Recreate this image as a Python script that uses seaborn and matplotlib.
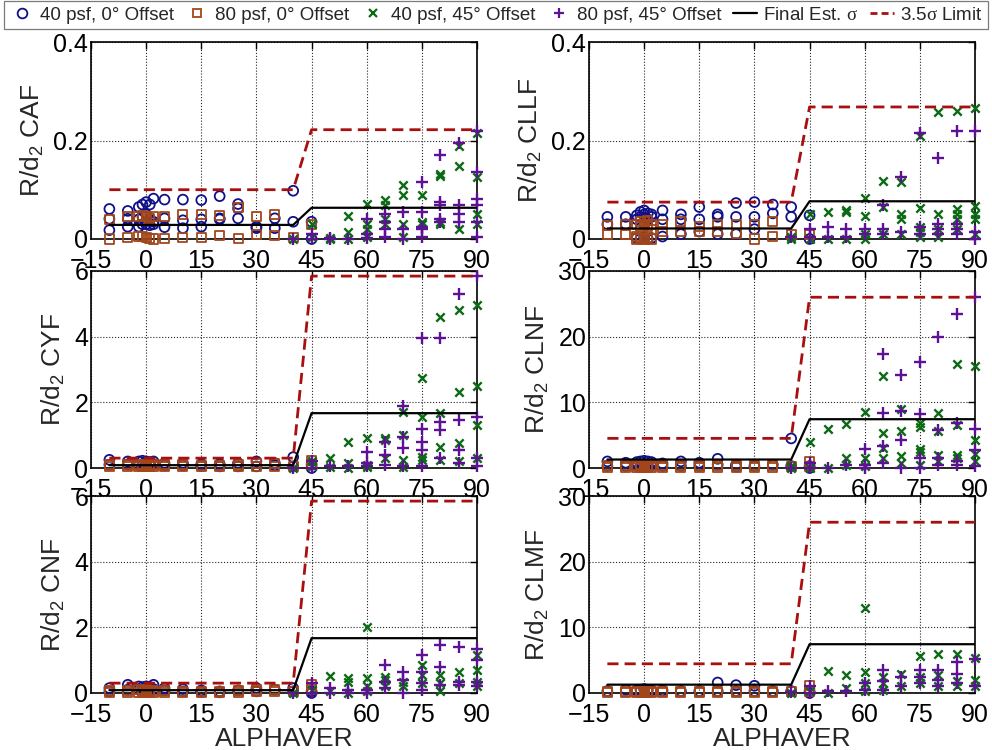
import matplotlib
matplotlib.use("Agg")
import matplotlib.pyplot as plt
from matplotlib.lines import Line2D
from matplotlib.ticker import FormatStrFormatter
import pandas as pd
import seaborn as sns

# ---------------------------------------------------------------------------
# Angle-of-attack sweeps
ALPHA_0DEG = [-10, -5, -2, -1, 0, 1, 2, 5, 10, 15, 20, 25, 30, 35, 40, 45]
ALPHA_45DEG = [40, 45, 50, 55, 60, 65, 70, 75, 80, 85, 90]
SIGMA_ALPHA = [-10, 40, 45, 90]

COEFFS = ["CAF", "CLLF", "CYF", "CLNF", "CNF", "CLMF"]
SIGMA_LOW = [0.0286, 0.0214, 0.086, 1.29, 0.086, 1.27]
SIGMA_HIGH = [0.0634, 0.0766, 1.67, 7.43, 1.67, 7.43]
LIMIT_FACTOR = 3.5
Y_MAX = [0.4, 0.4, 6, 30, 6, 30]
Y_TICKS = [[0, 0.2, 0.4], [0, 0.2, 0.4], [0, 2, 4, 6], [0, 10, 20, 30],
           [0, 2, 4, 6], [0, 10, 20, 30]]
X_TICKS = [-15, 0, 15, 30, 45, 60, 75, 90]

# R/d2 values per alpha (one inner list of repeat runs per alpha)
CAF_40_0 = [[0.061, 0.041, 0.018], [0.057, 0.041, 0.025], [0.065, 0.040, 0.025],
            [0.070, 0.045, 0.030], [0.075, 0.050, 0.030], [0.070, 0.040, 0.028],
            [0.082, 0.035, 0.030], [0.080, 0.042, 0.024], [0.080, 0.038, 0.022],
            [0.079, 0.040, 0.025], [0.087, 0.040, 0.042], [0.071, 0.062, 0.042],
            [0.025, 0.022], [0.042, 0.022], [0.098, 0.035], [0.035, 0.0]]
CAF_80_0 = [[0.040, 0.0], [0.045, 0.003], [0.045, 0.005], [0.048, 0.005],
            [0.045, 0.003], [0.042, 0.002], [0.045, 0.0], [0.045, 0.002],
            [0.050, 0.003], [0.050, 0.003], [0.048, 0.008], [0.063, 0.002],
            [0.045, 0.010], [0.050, 0.008], [0.003], [0.030]]
CAF_40_45 = [[0.0], [0.030, 0.005], [0.002, 0.0], [0.047, 0.015, 0.0],
             [0.072, 0.030, 0.020, 0.005], [0.080, 0.070, 0.040, 0.030],
             [0.110, 0.090, 0.030, 0.005], [0.090, 0.035, 0.030],
             [0.132, 0.128, 0.030, 0.035], [0.188, 0.148, 0.020],
             [0.215, 0.125, 0.050, 0.030]]
CAF_80_45 = [[0.0], [0.010, 0.0], [0.003, 0.0], [0.0], [0.040, 0.010, 0.003],
             [0.050, 0.035, 0.020, 0.005], [0.055, 0.020, 0.0],
             [0.115, 0.055, 0.025, 0.020, 0.005],
             [0.170, 0.075, 0.070, 0.040, 0.035], [0.195, 0.070, 0.050, 0.035],
             [0.220, 0.137, 0.082, 0.070, 0.035, 0.005]]

CLLF_40_0 = [[0.045, 0.030], [0.045, 0.030], [0.048, 0.040, 0.002],
             [0.055, 0.045, 0.0], [0.058, 0.050, 0.003], [0.052, 0.040, 0.0],
             [0.050, 0.045, 0.002], [0.058, 0.040, 0.005], [0.050, 0.040, 0.010],
             [0.065, 0.040, 0.015], [0.050, 0.045, 0.010], [0.073, 0.045, 0.010],
             [0.075, 0.045, 0.020], [0.070, 0.052], [0.065, 0.045], [0.048, 0.0]]
CLLF_80_0 = [[0.028, 0.010], [0.030, 0.010], [0.030, 0.005, 0.0],
             [0.035, 0.025, 0.002], [0.035, 0.030, 0.0], [0.038, 0.025, 0.003],
             [0.030, 0.020, 0.0], [0.030, 0.015], [0.035, 0.015], [0.025, 0.015],
             [0.030, 0.015], [0.030, 0.012], [0.030, 0.0], [0.035, 0.005],
             [0.010], [0.010]]
CLLF_40_45 = [[0.005, 0.0], [0.050, 0.0], [0.055, 0.0], [0.058, 0.055, 0.0],
              [0.083, 0.047, 0.010, 0.0], [0.118, 0.065, 0.010],
              [0.115, 0.050, 0.040, 0.010], [0.210, 0.063, 0.025, 0.015, 0.005],
              [0.258, 0.050, 0.020, 0.005], [0.260, 0.060, 0.050, 0.040, 0.020],
              [0.265, 0.068, 0.050, 0.040, 0.010]]
CLLF_80_45 = [[0.005], [0.020, 0.005], [0.025, 0.005], [0.020, 0.005],
              [0.020, 0.010], [0.070, 0.020, 0.010], [0.125, 0.015],
              [0.215, 0.025, 0.010], [0.165, 0.030, 0.020, 0.010],
              [0.220, 0.030, 0.020, 0.010], [0.220, 0.015, 0.0]]

CYF_40_0 = [[0.25, 0.10], [0.20, 0.10], [0.20, 0.10], [0.22, 0.12], [0.20, 0.15],
            [0.18, 0.10], [0.20, 0.12], [0.15, 0.08], [0.15, 0.08], [0.12, 0.06],
            [0.12, 0.05], [0.15, 0.05], [0.20, 0.05], [0.15, 0.08], [0.33, 0.05],
            [0.10, 0.0]]
CYF_80_0 = [[0.12, 0.05], [0.12, 0.05], [0.10, 0.04], [0.12, 0.05], [0.12, 0.04],
            [0.10, 0.05], [0.10, 0.04], [0.10, 0.05], [0.10, 0.05], [0.08, 0.04],
            [0.08, 0.04], [0.10, 0.05], [0.15, 0.05], [0.15, 0.05], [0.05],
            [0.22, 0.10]]
CYF_40_45 = [[0.0], [0.20, 0.05], [0.30, 0.02], [0.78, 0.15, 0.0],
             [0.90, 0.08, 0.02], [0.92, 0.85, 0.30], [1.70, 1.00, 0.25, 0.02],
             [2.75, 1.55, 0.35, 0.25], [4.60, 1.68, 0.65, 0.25],
             [4.80, 2.30, 0.75, 0.20], [4.95, 2.50, 1.30, 0.30]]
CYF_80_45 = [[0.0], [0.20, 0.0], [0.05], [0.05], [0.50, 0.15, 0.05],
             [0.80, 0.40, 0.10], [1.90, 0.95, 0.60, 0.05],
             [3.95, 1.20, 0.80, 0.55, 0.05], [3.95, 1.40, 1.15, 0.30],
             [5.30, 1.45, 0.55, 0.15], [5.85, 1.55, 0.30, 0.05]]

CLNF_40_0 = [[1.0, 0.3], [0.8, 0.3], [0.9, 0.4], [1.0, 0.5], [1.1, 0.6], [1.0, 0.5],
             [0.9, 0.4], [0.7, 0.3], [1.0, 0.3], [0.8, 0.3], [1.4, 0.5], [0.5, 0.2],
             [0.3], [0.5], [4.5, 0.3], [0.3, 0.0]]
CLNF_80_0 = [[0.4, 0.1], [0.4, 0.1], [0.4, 0.1], [0.5, 0.1], [0.4, 0.1], [0.4, 0.1],
             [0.4, 0.1], [0.4, 0.1], [0.4, 0.1], [0.4, 0.1], [0.4, 0.1], [0.4, 0.1],
             [0.4, 0.1], [0.4, 0.1], [0.3], [1.0, 0.3]]
CLNF_40_45 = [[0.3, 0.0], [3.9, 0.0], [5.9, 0.0], [6.7, 1.5, 0.5],
              [8.5, 1.5, 0.3], [14.0, 5.3, 3.0, 1.5], [9.0, 5.7, 1.8, 0.7],
              [6.9, 6.3, 2.9, 2.5, 0.5], [8.3, 5.7, 2.0, 1.0],
              [15.9, 6.5, 2.0, 1.5], [15.6, 4.2, 2.2, 1.0]]
CLNF_80_45 = [[0.0], [0.8, 0.0], [0.0], [0.5], [2.9, 0.5, 0.0],
              [17.4, 8.3, 3.3, 0.8], [14.1, 8.7, 4.3, 0.0], [16.2, 8.2, 1.5, 0.0],
              [20.0, 5.8, 1.5, 0.5], [23.5, 6.9, 1.0, 0.5], [26.1, 6.0, 2.8, 0.3]]

CNF_40_0 = [[0.15, 0.05], [0.25, 0.10], [0.20, 0.10], [0.18, 0.08], [0.20, 0.10],
            [0.18, 0.10], [0.25, 0.12], [0.15, 0.08], [0.12, 0.05], [0.08, 0.03],
            [0.05, 0.02], [0.08], [0.15, 0.05], [0.10], [0.15, 0.05], [0.05, 0.0]]
CNF_80_0 = [[0.08, 0.03], [0.08, 0.03], [0.10, 0.03], [0.08, 0.03], [0.10, 0.04],
            [0.08, 0.03], [0.08, 0.03], [0.08, 0.03], [0.06, 0.02], [0.06, 0.02],
            [0.06, 0.02], [0.08, 0.03], [0.10, 0.04], [0.10, 0.04], [0.05],
            [0.25, 0.10]]
CNF_40_45 = [[0.0], [0.10], [0.52, 0.05], [0.45, 0.35, 0.0],
             [2.00, 0.45, 0.20, 0.05], [0.50, 0.40, 0.20], [0.35, 0.20],
             [0.85, 0.55, 0.30], [0.55, 0.30, 0.05], [0.65, 0.30],
             [1.15, 0.70, 0.35, 0.20]]
CNF_80_45 = [[0.0], [0.30, 0.0], [0.15, 0.0], [0.10, 0.0], [0.10, 0.0],
             [0.85, 0.35, 0.15], [0.65, 0.40, 0.0], [1.15, 0.65, 0.30, 0.10],
             [1.45, 0.80, 0.25], [1.40, 0.35, 0.25], [1.35, 1.00, 0.35, 0.20]]

CLMF_40_0 = [[0.3], [0.5], [0.4], [0.5], [0.6], [0.5], [0.4], [0.4], [0.3], [0.3],
             [1.6, 0.3], [1.2, 0.3], [1.1, 0.3], [0.3], [0.3], [0.0, 0.3]]
CLMF_80_0 = [[0.3, 0.1], [0.3, 0.1], [0.3, 0.1], [0.3, 0.1], [0.3, 0.1], [0.3, 0.1],
             [0.3, 0.1], [0.3, 0.1], [0.3, 0.1], [0.3, 0.1], [0.3, 0.1], [0.3, 0.1],
             [0.3, 0.1], [0.3, 0.1], [0.2], [1.2, 0.3]]
CLMF_40_45 = [[0.0], [0.3], [3.4, 0.0], [2.8, 0.8], [13.0, 3.2, 1.5, 0.3],
              [2.5, 1.5, 0.5], [2.9, 1.0], [5.6, 2.5, 1.5], [5.9, 2.8, 1.0],
              [6.0, 1.8, 1.0], [5.3, 2.0, 1.0]]
CLMF_80_45 = [[0.2], [1.0, 0.0], [0.3], [0.3], [1.5, 0.5], [3.5, 1.8, 0.5],
              [2.5, 1.0], [3.5, 2.5, 1.5], [3.5, 2.0, 1.0], [4.7, 2.9, 1.5],
              [5.2, 1.0]]

LABELS = ["40 psf, 0\u00b0 Offset", "80 psf, 0\u00b0 Offset",
          "40 psf, 45\u00b0 Offset", "80 psf, 45\u00b0 Offset"]
SERIES_DATA = {
    "CAF": [CAF_40_0, CAF_80_0, CAF_40_45, CAF_80_45],
    "CLLF": [CLLF_40_0, CLLF_80_0, CLLF_40_45, CLLF_80_45],
    "CYF": [CYF_40_0, CYF_80_0, CYF_40_45, CYF_80_45],
    "CLNF": [CLNF_40_0, CLNF_80_0, CLNF_40_45, CLNF_80_45],
    "CNF": [CNF_40_0, CNF_80_0, CNF_40_45, CNF_80_45],
    "CLMF": [CLMF_40_0, CLMF_80_0, CLMF_40_45, CLMF_80_45],
}
SERIES_ALPHA = [ALPHA_0DEG, ALPHA_0DEG, ALPHA_45DEG, ALPHA_45DEG]

# ---------------------------------------------------------------------------
# Styling
sns.set_theme(style="white")
plt.rcParams["font.family"] = ["Liberation Sans", "DejaVu Sans"]
plt.rcParams["mathtext.fontset"] = "custom"
plt.rcParams["mathtext.rm"] = "Liberation Serif"
plt.rcParams["mathtext.sf"] = "Liberation Sans"
plt.rcParams["axes.unicode_minus"] = True

COLORS = ["#10108a", "#a3461a", "#0b6a14", "#5f1196"]
MARKERS = ["o", "s", "x", "+"]
SIZES = [50, 42, 36, 66]
SIGMA_COLOR = "black"
LIMIT_COLOR = "#a80f0f"
TICK_FS = 18
LABEL_FS = 19


def explode(alphas, groups):
    xs, ys = [], []
    for a, vals in zip(alphas, groups):
        for v in vals:
            xs.append(a)
            ys.append(v)
    return pd.DataFrame({"ALPHAVER": xs, "value": ys})


fig = plt.figure(figsize=(9.92, 7.5), dpi=100)
W, H = 992.0, 750.0
col_left = [91, 589]
row_top = [42, 271, 496]
ax_w, ax_h = 386, 197

for i, coeff in enumerate(COEFFS):
    r, c = divmod(i, 2)
    ax = fig.add_axes([col_left[c] / W, 1 - (row_top[r] + ax_h) / H,
                       ax_w / W, ax_h / H])
    ax.set_facecolor("white")

    for k in range(4):
        df = explode(SERIES_ALPHA[k], SERIES_DATA[coeff][k])
        if MARKERS[k] in ("o", "s"):
            sns.scatterplot(data=df, x="ALPHAVER", y="value", ax=ax,
                            marker=MARKERS[k], s=SIZES[k], fc="none",
                            ec=COLORS[k], linewidth=1.3, zorder=3 + k,
                            clip_on=False)
        else:
            sns.scatterplot(data=df, x="ALPHAVER", y="value", ax=ax,
                            marker=MARKERS[k], s=SIZES[k], color=COLORS[k],
                            linewidth=1.7, zorder=3 + k, clip_on=False)

    sig = [SIGMA_LOW[i], SIGMA_LOW[i], SIGMA_HIGH[i], SIGMA_HIGH[i]]
    lim = [LIMIT_FACTOR * s for s in sig]
    sns.lineplot(x=SIGMA_ALPHA, y=sig, ax=ax, color=SIGMA_COLOR, lw=1.6,
                 estimator=None, sort=False, zorder=8)
    sns.lineplot(x=SIGMA_ALPHA, y=lim, ax=ax, color=LIMIT_COLOR, lw=2.0,
                 estimator=None, sort=False, zorder=8,
                 linestyle=(0, (4.0, 2.2)))

    ax.set_xlim(-15, 90)
    ax.set_ylim(0, Y_MAX[i])
    ax.set_xticks(X_TICKS)
    ax.set_yticks(Y_TICKS[i])
    ax.yaxis.set_major_formatter(FormatStrFormatter("%g"))
    ax.grid(True, which="major", linestyle=":", color="0.15", linewidth=0.8)
    ax.tick_params(direction="in", top=True, right=True, length=5, width=1,
                   labelsize=TICK_FS, colors="black")
    ax.tick_params(axis="x", pad=7)
    ax.tick_params(axis="y", pad=2)
    for sp in ax.spines.values():
        sp.set_visible(True)
        sp.set_color("black")
        sp.set_linewidth(1.2)
    ax.set_ylabel(r"R/d$_\mathsf{2}$ " + coeff, fontsize=LABEL_FS, labelpad=5)
    ax.set_xlabel("ALPHAVER" if r == 2 else "", fontsize=LABEL_FS, labelpad=0)

handles = [
    Line2D([], [], marker="o", ls="none", mfc="none", mec=COLORS[0], mew=1.3, ms=7),
    Line2D([], [], marker="s", ls="none", mfc="none", mec=COLORS[1], mew=1.3, ms=6),
    Line2D([], [], marker="x", ls="none", color=COLORS[2], mew=1.6, ms=5.5),
    Line2D([], [], marker="+", ls="none", color=COLORS[3], mew=1.6, ms=7.5),
    Line2D([], [], color=SIGMA_COLOR, lw=1.6),
    Line2D([], [], color=LIMIT_COLOR, lw=2.0, linestyle=(0, (2.5, 1.5))),
]
labels = LABELS + [r"Final Est. $\mathrm{\sigma}$", r"3.5$\mathrm{\sigma}$ Limit"]
leg = fig.legend(handles, labels, loc="upper left", ncol=6, mode="expand",
                 bbox_to_anchor=(0.004, 0.999, 0.992, 0.0), fontsize=13.5,
                 frameon=True, fancybox=False, edgecolor="0.35",
                 handlelength=1.3, handletextpad=0.3, columnspacing=0.8,
                 borderpad=0.3, borderaxespad=0.0)
leg.get_frame().set_linewidth(0.9)

fig.savefig("out.png", dpi=100)
